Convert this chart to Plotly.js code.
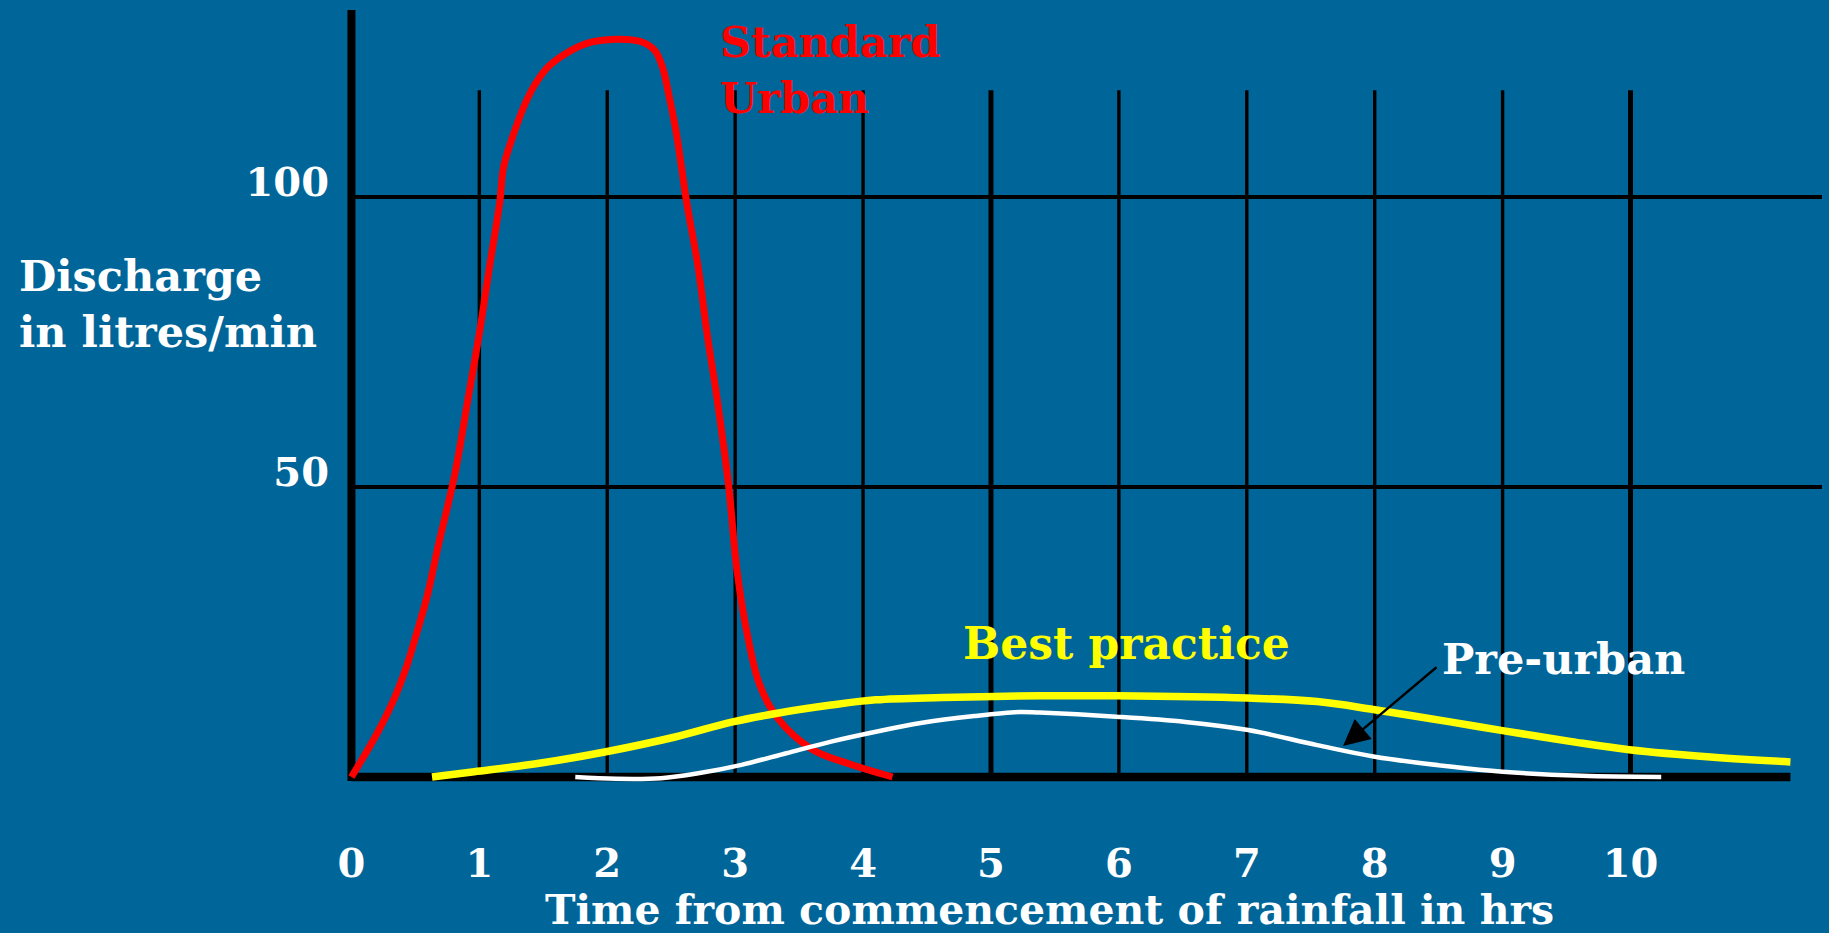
<!DOCTYPE html>
<html>
<head>
<meta charset="utf-8">
<script src="https://cdn.plot.ly/plotly-3.0.1.min.js"></script>
<style>html,body{margin:0;padding:0;background:#006699;}#chart{width:1829px;height:933px;}</style>
</head>
<body>
<div id="chart"></div>
<script>
// ---- data ----
const hourTicks = [0, 1, 2, 3, 4, 5, 6, 7, 8, 9, 10];
const hourGrid = [1, 2, 3, 4, 5, 6, 7, 8, 9, 10];
const dischargeTicks = [50, 100];

const urbanT = [0, 0.2, 0.33, 0.43, 0.51, 0.59, 0.68, 0.81, 0.91, 1.0, 1.08, 1.16, 1.19, 1.27, 1.37, 1.44, 1.54, 1.68, 1.84, 2.07, 2.26, 2.37, 2.43, 2.49, 2.54, 2.58, 2.62, 2.71, 2.78, 2.86, 2.95, 3.015, 3.1, 3.19, 3.33, 3.6, 3.9, 4.23];
const urbanQ = [0, 7.5, 13.3, 19.0, 24.8, 31.0, 40.0, 52.4, 65.0, 76.5, 88.0, 99.2, 105.2, 111.0, 116.7, 119.6, 122.5, 124.8, 126.5, 127.2, 126.8, 125.3, 122.5, 116.7, 111.0, 105.2, 99.2, 88.0, 76.5, 65.0, 50.0, 35.5, 24.0, 16.0, 10.2, 4.8, 2.2, 0];

const bestT = [0.63, 0.96, 1.48, 2.0, 2.53, 2.98, 3.33, 3.75, 4.1, 4.62, 5.38, 5.98, 7.01, 7.55, 8.0, 8.59, 9.0, 9.54, 9.99, 10.65, 11.25];
const bestQ = [0, 0.9, 2.4, 4.4, 6.9, 9.5, 11.0, 12.4, 13.3, 13.7, 14.0, 14.0, 13.6, 13.0, 11.6, 9.5, 8.0, 6.1, 4.7, 3.4, 2.6];

const preT = [1.75, 2.07, 2.42, 2.7, 3.05, 3.4, 3.75, 4.1, 4.45, 4.87, 5.22, 5.38, 5.98, 6.52, 7.01, 7.55, 8.0, 8.59, 9.0, 9.62, 10.24];
const preQ = [0, -0.3, -0.2, 0.6, 2.1, 4.1, 6.1, 7.8, 9.3, 10.5, 11.2, 11.1, 10.4, 9.5, 8.1, 5.5, 3.5, 1.8, 0.9, 0.2, 0];

const seriesNames = ['Standard Urban', 'Best practice', 'Pre-urban'];
const yTitle = 'Discharge<br>in litres/min';
const xTitle = 'Time from commencement of rainfall in hrs';

// ---- layout constants ----
const W = 1829, H = 933;
const M = {l: 332, r: 7, t: 10, b: 147};
const pw = W - M.l - M.r, ph = H - M.t - M.b;
const px = X => (X - M.l) / pw;
const py = Y => (H - M.b - Y) / ph;
const XR = [-0.152, 11.497];
const YR = [-1.552, 132.24];
const FONT = 'DejaVu Serif';
const BG = '#006699';

const traces = [
  {x: urbanT, y: urbanQ, name: seriesNames[0], mode: 'lines',
   line: {color: '#ff0000', width: 7, shape: 'spline', smoothing: 1}},
  {x: bestT, y: bestQ, name: seriesNames[1], mode: 'lines',
   line: {color: '#ffff00', width: 7.5, shape: 'spline', smoothing: 1}},
  {x: preT, y: preQ, name: seriesNames[2], mode: 'lines',
   line: {color: '#ffffff', width: 4.5, shape: 'spline', smoothing: 1}}
];

const shapes = [];
// vertical grid lines (shorter than the plot)
hourGrid.forEach(h => shapes.push({type: 'line', xref: 'x', yref: 'y', x0: h, x1: h, y0: 0, y1: 118.4,
  line: {color: '#000', width: (h % 5 === 0) ? 5 : 3.4}, layer: 'below'}));
// horizontal grid lines
dischargeTicks.forEach(v => shapes.push({type: 'line', xref: 'x', yref: 'y', x0: 0, x1: XR[1], y0: v, y1: v,
  line: {color: '#000', width: 4}, layer: 'below'}));
// y axis line
shapes.push({type: 'line', xref: 'x', yref: 'y', x0: 0, x1: 0, y0: -0.7, y1: YR[1], line: {color: '#000', width: 8}, layer: 'below'});
// x axis baseline
shapes.push({type: 'line', xref: 'x', yref: 'y', x0: 0, x1: 11.25, y0: 0, y1: 0, line: {color: '#000', width: 8.5}, layer: 'below'});

const annotations = [
  {xref: 'paper', yref: 'paper', x: px(17), y: py(304), xanchor: 'left', yanchor: 'middle', align: 'left',
   text: yTitle, showarrow: false, font: {family: FONT, weight: 'bold', size: 43, color: '#fff'}},
  {xref: 'paper', yref: 'paper', x: px(1049), y: py(910), xanchor: 'center', yanchor: 'middle',
   text: xTitle, showarrow: false, font: {family: FONT, weight: 'bold', size: 41, color: '#fff'}},
  {xref: 'paper', yref: 'paper', x: px(718), y: py(70), xanchor: 'left', yanchor: 'middle', align: 'left',
   text: 'Standard<br>Urban', showarrow: false, font: {family: FONT, weight: 'bold', size: 43, color: '#ff0000'}},
  {xref: 'paper', yref: 'paper', x: px(961), y: py(643), xanchor: 'left', yanchor: 'middle',
   text: seriesNames[1], showarrow: false, font: {family: FONT, weight: 'bold', size: 44, color: '#ffff00'}},
  {xref: 'paper', yref: 'paper', x: px(1440), y: py(659), xanchor: 'left', yanchor: 'middle',
   text: seriesNames[2], showarrow: false, font: {family: FONT, weight: 'bold', size: 43, color: '#ffffff'}},
  {xref: 'paper', yref: 'paper', x: px(1343), y: py(746), text: '', showarrow: true,
   ax: 95, ay: -80, arrowhead: 2, arrowsize: 2.2, arrowwidth: 2.4, arrowcolor: '#000', standoff: 0}
];

const layout = {
  width: W, height: H, margin: M,
  paper_bgcolor: BG, plot_bgcolor: BG,
  showlegend: false,
  xaxis: {range: XR, showgrid: false, zeroline: false, showline: false,
    tickmode: 'array', tickvals: hourTicks, ticktext: hourTicks.map(String), ticks: '',
    ticklabelstandoff: 50,
    tickfont: {family: FONT, weight: 'bold', size: 40, color: '#fff'}},
  yaxis: {range: YR, showgrid: false, zeroline: false, showline: false,
    tickmode: 'array', tickvals: dischargeTicks, ticktext: dischargeTicks.map(String), ticks: '',
    ticklabelstandoff: 2, ticklabelshift: -15,
    tickfont: {family: FONT, weight: 'bold', size: 40, color: '#fff'}},
  shapes: shapes,
  annotations: annotations
};

Plotly.newPlot('chart', traces, layout, {displayModeBar: false, staticPlot: true});
</script>
</body>
</html>
